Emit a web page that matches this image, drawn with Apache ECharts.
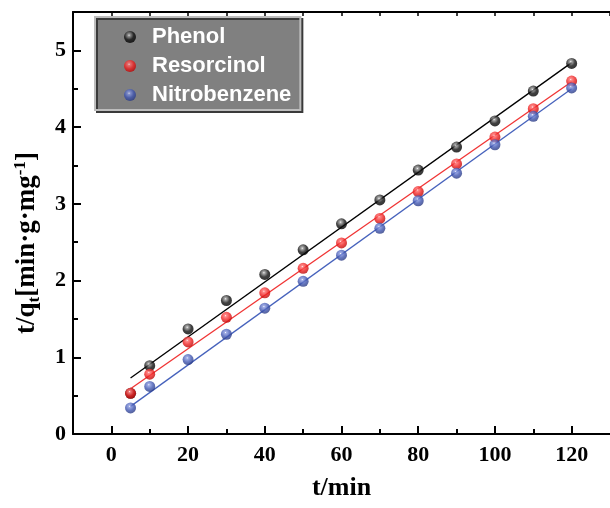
<!DOCTYPE html>
<html>
<head>
<meta charset="utf-8">
<script src="https://cdn.jsdelivr.net/npm/echarts@6/dist/echarts.min.js"></script>
<style>
html,body{margin:0;padding:0;background:#fff;}
#chart{width:610px;height:508px;}
</style>
</head>
<body>
<div id="chart"></div>
<script>
// ---- data ----
var timeMin = [5, 10, 20, 30, 40, 50, 60, 70, 80, 90, 100, 110, 120];
// Phenol at t=5 coincides with (is hidden beneath) the Resorcinol point
var phenol      = [0.53, 0.89, 1.37, 1.74, 2.08, 2.40, 2.74, 3.05, 3.44, 3.74, 4.08, 4.47, 4.83];
var resorcinol  = [0.53, 0.78, 1.20, 1.52, 1.84, 2.16, 2.49, 2.81, 3.16, 3.52, 3.87, 4.24, 4.60];
var nitrobenzene= [0.34, 0.62, 0.97, 1.30, 1.64, 1.99, 2.33, 2.68, 3.04, 3.40, 3.77, 4.14, 4.51];
// fitted lines, endpoints
var fitT          = [5, 120];
var phenolFit     = [0.73, 4.84];
var resorcinolFit = [0.59, 4.59];
var nitroFit      = [0.36, 4.50];
// tick values
var xMajorTicks = [0, 20, 40, 60, 80, 100, 120];
var yMinorTicks = [0.5, 1.5, 2.5, 3.5, 4.5];
var seriesNames = ['Phenol', 'Resorcinol', 'Nitrobenzene'];

function pairs(xs, ys) { return xs.map(function (x, i) { return [x, ys[i]]; }); }
function ball(stops) {
  return {
    type: 'radial', x: 0.42, y: 0.35, r: 0.7,
    colorStops: [
      {offset: 0, color: '#ffffff'},
      {offset: 0.12, color: stops[0]},
      {offset: 0.55, color: stops[1]},
      {offset: 1, color: stops[2]}
    ]
  };
}
var ballBlack = ball(['#9a9a9a', '#111111', '#000000']);
var ballRed   = ball(['#ff7070', '#ee2020', '#b00000']);
var ballBlue  = ball(['#8a9ae0', '#3f55b0', '#26357a']);

var serif = '"Liberation Serif","Times New Roman",serif';
var sans  = '"Liberation Sans",Arial,sans-serif';
var XMIN = -10, XMAX = 130, YMIN = 0, YMAX = 5.5;

function tickAxis(pos, min, max, values, len, width) {
  return {
    type: 'value', min: min, max: max, position: pos,
    axisLine: {show: false, onZero: false},
    axisTick: {show: true, inside: true, length: len, customValues: values, lineStyle: {color: '#000', width: width}},
    axisLabel: {show: false}, splitLine: {show: false}, minorTick: {show: false}
  };
}

var chart = echarts.init(document.getElementById('chart'), null, {renderer: 'canvas'});
chart.setOption({
  animation: false,
  backgroundColor: '#ffffff',
  grid: {left: 73, right: 0, top: 12, bottom: 74, containLabel: false},
  legend: {
    orient: 'vertical', left: 95, top: 17,
    data: seriesNames,
    icon: 'circle', itemWidth: 22, itemHeight: 12, itemGap: 7,
    padding: [9, 9, 4, 29],
    backgroundColor: '#808080',
    borderColor: '#bdbdbd', borderWidth: 2,
    shadowColor: '#3a3a3a', shadowOffsetX: 2, shadowOffsetY: 2, shadowBlur: 0,
    textStyle: {color: '#ffffff', fontFamily: sans, fontWeight: 'bold', fontSize: 22, lineHeight: 22, padding: [0, 0, 0, 6]}
  },
  xAxis: [
    {
      type: 'value', min: XMIN, max: XMAX, interval: 10, position: 'bottom',
      name: 't/min', nameLocation: 'middle', nameGap: 41,
      nameTextStyle: {fontFamily: serif, fontWeight: 'bold', fontSize: 26, color: '#000'},
      axisLine: {show: true, onZero: false, lineStyle: {color: '#000', width: 2}},
      axisTick: {show: true, inside: true, length: 5, lineStyle: {color: '#000', width: 2}},
      axisLabel: {
        show: true, margin: 10, fontFamily: serif, fontWeight: 'bold', fontSize: 22, color: '#000',
        showMinLabel: false, showMaxLabel: false,
        formatter: function (v) { return (v % 20 === 0 && v >= 0 && v <= 120) ? String(v) : ''; }
      },
      splitLine: {show: false}
    },
    tickAxis('bottom', XMIN, XMAX, xMajorTicks, 8, 2),
    {
      type: 'value', min: XMIN, max: XMAX, interval: 10, position: 'top',
      axisLine: {show: true, onZero: false, lineStyle: {color: '#000', width: 2}},
      axisTick: {show: true, inside: true, length: 4, lineStyle: {color: '#000', width: 1.5}},
      axisLabel: {show: false}, splitLine: {show: false}
    }
  ],
  yAxis: [
    {
      type: 'value', min: YMIN, max: YMAX, interval: 1, position: 'left',
      name: '{a|t/q}{sub|t}{a|[min·g·mg}{sup|-1}{a|]}',
      nameLocation: 'middle', nameRotate: 90, nameGap: 30,
      nameTextStyle: {
        padding: [0, 40, 0, 0],
        rich: {
          a:   {fontFamily: serif, fontWeight: 'bold', fontSize: 27, color: '#000'},
          sub: {fontFamily: serif, fontWeight: 'bold', fontSize: 17, color: '#000', verticalAlign: 'bottom', padding: [14, 0, 0, 0]},
          sup: {fontFamily: serif, fontWeight: 'bold', fontSize: 17, color: '#000', verticalAlign: 'top', padding: [0, 0, 14, 0]}
        }
      },
      axisLine: {show: true, onZero: false, lineStyle: {color: '#000', width: 2}},
      axisTick: {show: true, inside: true, length: 8, lineStyle: {color: '#000', width: 2}},
      minorTick: {show: false},
      axisLabel: {
        show: true, margin: 7, fontFamily: serif, fontWeight: 'bold', fontSize: 22, color: '#000',
        showMaxLabel: false,
        formatter: function (v) { return (Math.round(v) === v) ? String(v) : ''; }
      },
      splitLine: {show: false}
    },
    tickAxis('left', YMIN, YMAX, yMinorTicks, 5, 2)
  ],
  series: [
    {name: 'Phenol fit', type: 'line', data: pairs(fitT, phenolFit), showSymbol: false, lineStyle: {color: '#000000', width: 1.3}, z: 2, silent: true},
    {name: 'Resorcinol fit', type: 'line', data: pairs(fitT, resorcinolFit), showSymbol: false, lineStyle: {color: '#f03434', width: 1.3}, z: 2, silent: true},
    {name: 'Nitrobenzene fit', type: 'line', data: pairs(fitT, nitroFit), showSymbol: false, lineStyle: {color: '#4662bc', width: 1.3}, z: 2, silent: true},
    {name: 'Phenol', type: 'scatter', data: pairs(timeMin, phenol), symbol: 'circle', symbolSize: 11, itemStyle: {color: ballBlack}, z: 3},
    {name: 'Resorcinol', type: 'scatter', data: pairs(timeMin, resorcinol), symbol: 'circle', symbolSize: 11, itemStyle: {color: ballRed}, z: 4},
    {name: 'Nitrobenzene', type: 'scatter', data: pairs(timeMin, nitrobenzene), symbol: 'circle', symbolSize: 11, itemStyle: {color: ballBlue}, z: 5}
  ]
});
</script>
</body>
</html>
